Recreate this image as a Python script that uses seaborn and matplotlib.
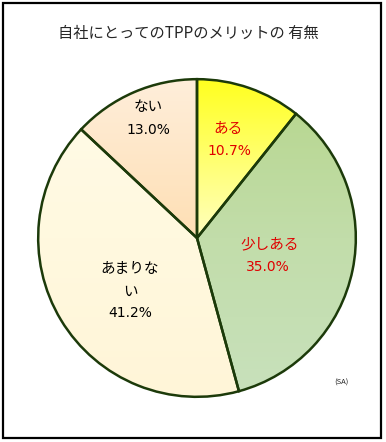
import numpy as np
import matplotlib
matplotlib.use("Agg")
import matplotlib.pyplot as plt
import seaborn as sns
from matplotlib.patches import Rectangle
from matplotlib.colors import LinearSegmentedColormap

sns.set_style("white")
plt.rcParams['font.family'] = ['Noto Sans CJK JP', 'DejaVu Sans']

# ---- data ----
title = "自社にとってのTPPのメリットの 有無"
categories = ["ある", "少しある", "あまりない", "ない"]
label_text = ["ある", "少しある", "あまりな\nい", "ない"]
values = [10.7, 35.0, 41.2, 13.0]
note = "(SA)"

W, H = 386, 442
fig = plt.figure(figsize=(W / 100, H / 100), dpi=100)
fig.patch.set_facecolor("white")

def fx(x):
    return x / W

def fy(y):
    return 1 - y / H

# pie axes: center (197, 238), radius ~159 px
cx, cy, r = 197, 238, 162
ax = fig.add_axes([fx(cx - r), fy(cy + r), 2 * r / W, 2 * r / H])

base_colors = ["#FFFF8C", "#C2DDA6", "#FFF8DC", "#FDDDB0"]
wedges, _ = ax.pie(values, startangle=90, counterclock=False, colors=base_colors,
                   wedgeprops=dict(edgecolor="#1C3A0A", linewidth=1.8))
ax.set_xlim(-1.02, 1.02)
ax.set_ylim(-1.02, 1.02)
ax.set_aspect("equal")
ax.axis("off")

# gradient fills clipped to wedges (top -> bottom)
grads = [
    ["#FFFF20", "#FFFFC0", "#FFFF40"],
    ["#B6D68C", "#C2DDAA", "#C8E1BC"],
    ["#FFFBE8", "#FFF9DF", "#FFF5D8"],
    ["#FFEEDA", "#FEDFB4", "#FBC887"],
]
yy, xx = np.mgrid[1:-1:200j, -1:1:200j]
for w, g in zip(wedges, grads):
    cmap = LinearSegmentedColormap.from_list("g", g)
    z = (1 - yy) / 2
    im = ax.imshow(z, extent=[-1, 1, -1, 1], cmap=cmap, zorder=w.get_zorder() + 0.1,
                   aspect="auto", interpolation="bilinear")
    im.set_clip_path(w)
    w.set_facecolor("none")
    w.set_zorder(w.get_zorder() + 0.2)

# labels
red = "#E00000"
fig.text(fx(228), fy(129), label_text[0], color=red, fontsize=10.5, ha="center", va="center")
fig.text(fx(229), fy(151), f"{values[0]:.1f}%", color=red, fontsize=10, ha="center", va="center",
         family=["DejaVu Sans"])
fig.text(fx(270), fy(244), label_text[1], color=red, fontsize=10.5, ha="center", va="center")
fig.text(fx(268), fy(267), f"{values[1]:.1f}%", color=red, fontsize=10, ha="center", va="center",
         family=["DejaVu Sans"])
fig.text(fx(130), fy(269), "あまりな", color="black", fontsize=10.5, ha="center", va="center")
fig.text(fx(130), fy(292), "い", color="black", fontsize=10.5, ha="center", va="center")
fig.text(fx(130), fy(313), f"{values[2]:.1f}%", color="black", fontsize=10, ha="center", va="center",
         family=["DejaVu Sans"])
fig.text(fx(148), fy(107), label_text[3], color="black", fontsize=10.5, ha="center", va="center")
fig.text(fx(148), fy(130), f"{values[3]:.1f}%", color="black", fontsize=10, ha="center", va="center",
         family=["DejaVu Sans"])

fig.text(fx(188), fy(33), title, fontsize=11, ha="center", va="center")
fig.text(fx(341), fy(383), note, fontsize=5.5, ha="center", va="center")

# frame
fig.patches.append(Rectangle((fx(3), fy(438)), fx(378), (435) / H, transform=fig.transFigure,
                             fill=False, edgecolor="black", linewidth=1.6))

fig.savefig("out.png", dpi=100)
